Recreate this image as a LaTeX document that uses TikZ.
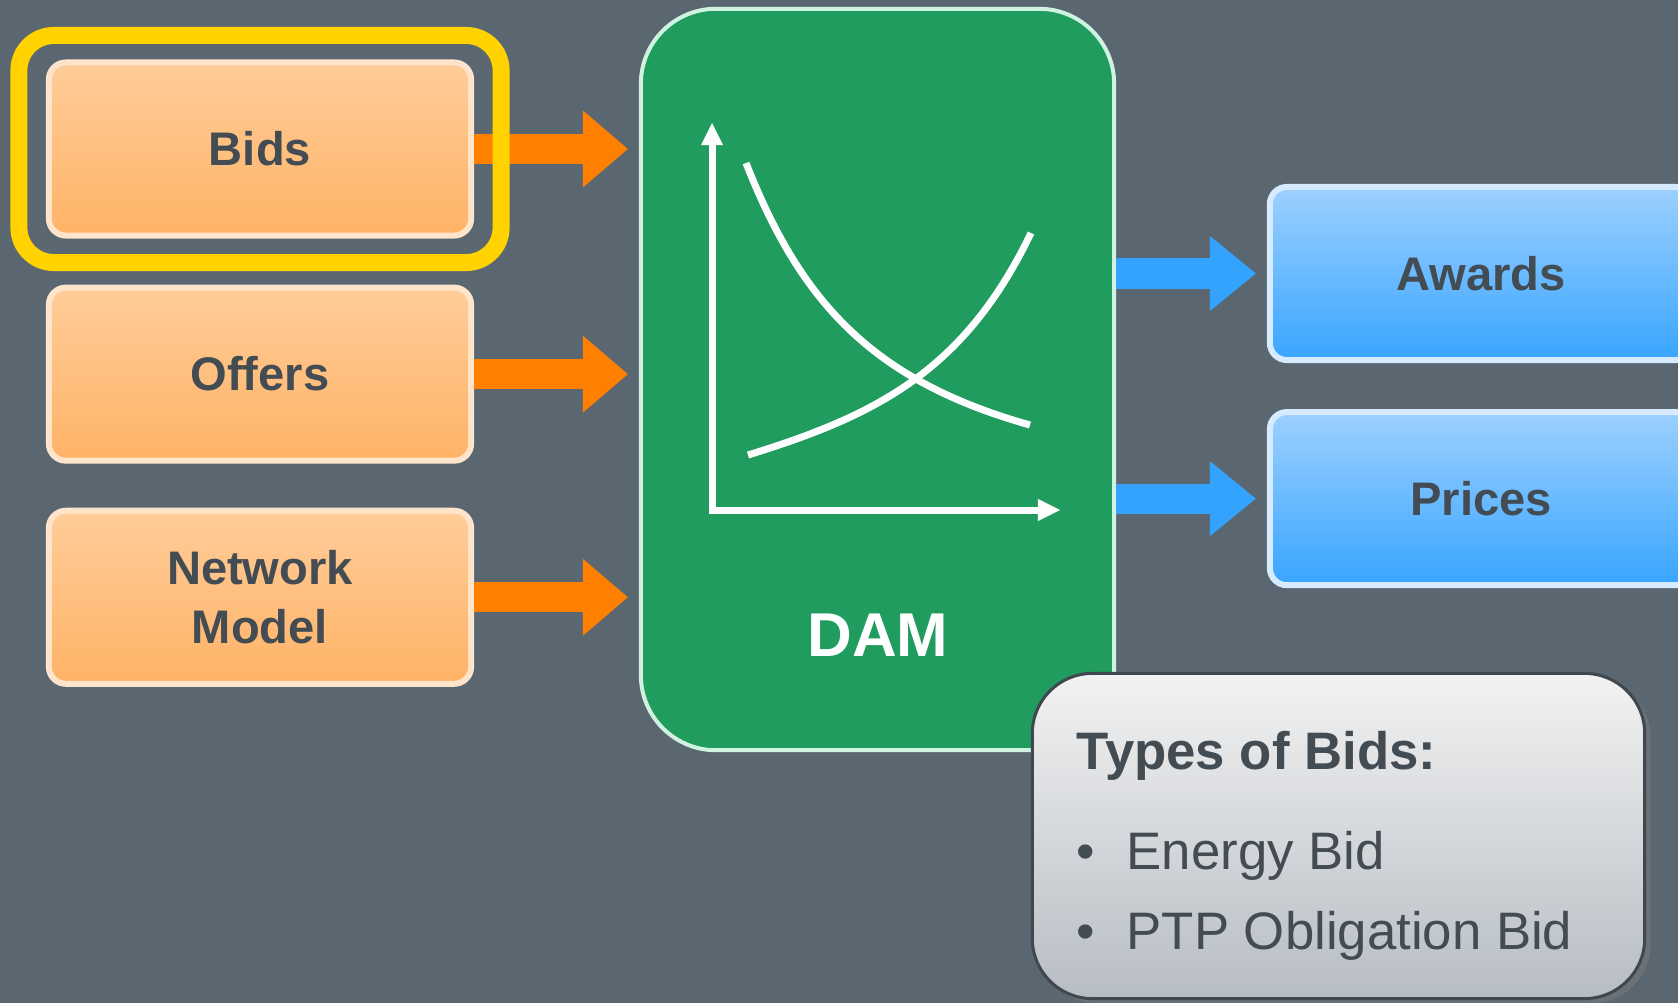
\documentclass[tikz,border=0pt]{standalone}
\usepackage{fontspec}
\setmainfont{Liberation Sans}
\usetikzlibrary{arrows.meta, positioning, shadows}

\definecolor{slidebg}{HTML}{5B6770}
\definecolor{inktext}{HTML}{434B53}
\definecolor{orangetop}{HTML}{FFCC99}
\definecolor{orangebot}{HTML}{FFB366}
\definecolor{orangeedge}{HTML}{FFE4CC}
\definecolor{arroworange}{HTML}{FF8000}
\definecolor{ringyellow}{HTML}{FFD200}
\definecolor{damgreen}{HTML}{1F9C5E}
\definecolor{damedge}{HTML}{CFF3E0}
\definecolor{bluetop}{HTML}{9DD0FF}
\definecolor{bluebot}{HTML}{38A5FF}
\definecolor{blueedge}{HTML}{D6EBFF}
\definecolor{arrowblue}{HTML}{33A3FF}
\definecolor{cardtop}{HTML}{F2F2F2}
\definecolor{cardbot}{HTML}{B7BDC4}
\definecolor{cardedge}{HTML}{40474F}

\begin{document}
\begin{tikzpicture}[x=0.01cm, y=-0.01cm,
  input box/.style={draw=orangeedge, line width=0.06cm, rounded corners=0.17cm,
    top color=orangetop, bottom color=orangebot, text=inktext,
    minimum width=4.22cm, minimum height=1.73cm, align=center,
    font=\fontsize{13.4}{16.8}\selectfont\bfseries},
  output box/.style={input box, draw=blueedge, top color=bluetop, bottom color=bluebot},
  market box/.style={draw=damedge, line width=0.04cm, fill=damgreen, rounded corners=0.75cm,
    minimum width=4.73cm, minimum height=7.41cm},
  info card/.style={draw=cardedge, line width=0.03cm, rounded corners=0.6cm,
    top color=cardtop, bottom color=cardbot, minimum width=6.12cm, minimum height=3.25cm,
    drop shadow={opacity=0.45, shadow xshift=0.06cm, shadow yshift=-0.05cm}},
  orange arrow/.style={arroworange, line width=0.3cm, shorten >=0.11cm,
    -{Triangle[length=0.45cm, width=0.77cm, line width=0pt]}},
  blue arrow/.style={arrowblue, line width=0.3cm, shorten >=0.11cm,
    -{Triangle[length=0.46cm, width=0.75cm, line width=0pt]}},
  axis line/.style={white, line width=0.07cm,
    {Triangle[length=0.22cm, width=0.22cm, line width=0pt]}-{Triangle[length=0.22cm, width=0.22cm, line width=0pt]}},
  curve line/.style={white, line width=0.07cm},
  highlight ring/.style={ringyellow, line width=0.17cm, rounded corners=0.35cm}
]
  \clip (0,0) rectangle (1678,1003);
  \fill[slidebg] (0,0) rectangle (1678,1003);

  % inputs
  \node[input box] (bids) at (260,149) {Bids};
  \node[input box, below=0.46cm of bids] (offers) {Offers};
  \node[input box, below=0.44cm of offers] (network) {Network\\Model};

  % day-ahead market
  \node[market box] (dam) at (877.5,379.5) {};
  \node[font=\fontsize{17.6}{20}\selectfont\bfseries, text=white] (damlabel) at (878,635) {DAM};

  \coordinate (origin) at (712,510);
  \coordinate (ytip) at (712,123);
  \coordinate (xtip) at (1060,510);
  \draw[axis line] (ytip) -- (origin) -- (xtip);
  \draw[curve line] (746,163) .. controls (800,300) and (870,380) .. (1030,425);
  \draw[curve line] (748,455) .. controls (878,415) and (965,370) .. (1031,233);

  % outputs
  \node[output box] (awards) at (1481,273.5) {Awards};
  \node[output box, below=0.46cm of awards] (prices) {Prices};

  \foreach \src in {bids, offers, network} {
    \draw[orange arrow] (\src.east) -- (\src.east -| dam.west);
  }
  \foreach \dst in {awards, prices} {
    \draw[blue arrow] (dam.east |- \dst.west) -- (\dst.west);
  }

  \draw[highlight ring] ([shift={(-27,-24)}]bids.north west) rectangle ([shift={(27,24)}]bids.south east);

  % bid types
  \node[info card] (bidtypes) at (1338.5,836) {};
  \node[anchor=north west, inner sep=0pt, text=inktext, align=left,
    font=\fontsize{15}{22.8}\selectfont] (bidlist) at (1076,731)
    {{\bfseries Types of Bids:}\\[5.4pt]
     \makebox[0.5cm][l]{\textbullet}Energy Bid\\
     \makebox[0.5cm][l]{\textbullet}PTP Obligation Bid};
\end{tikzpicture}
\end{document}
